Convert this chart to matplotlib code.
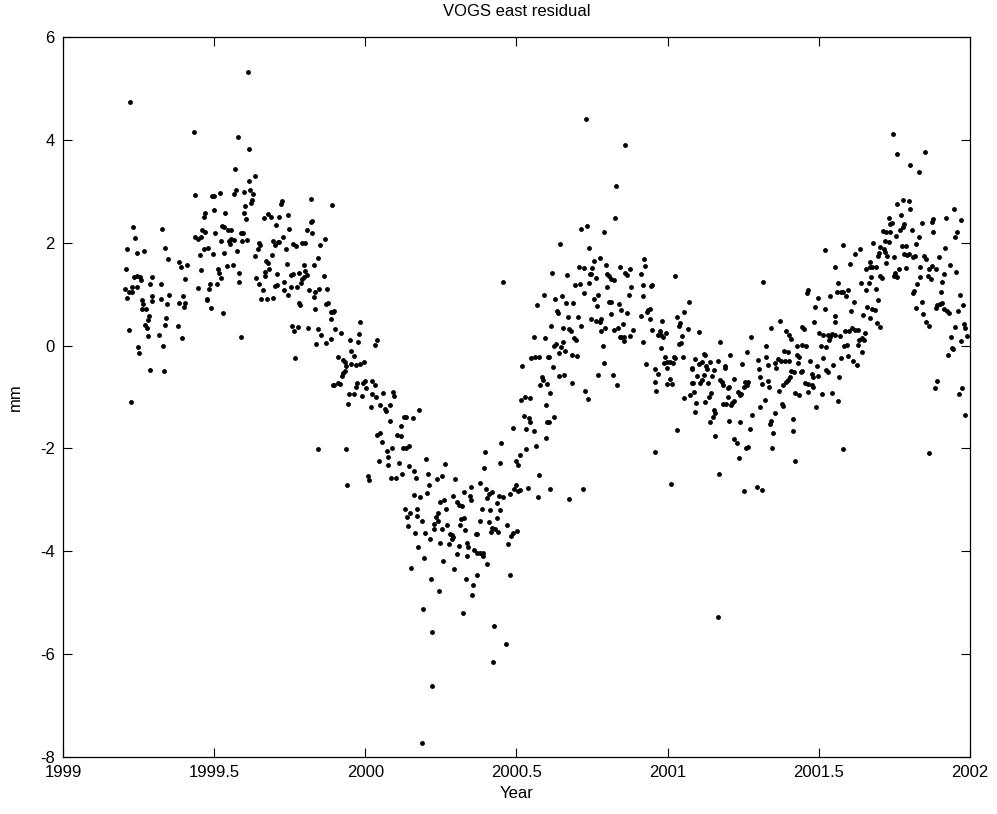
import numpy as np
import matplotlib
matplotlib.use("Agg")
import matplotlib.pyplot as plt

# daily east residuals (decimal year, mm) in strips
seg_a = [
    (1999.222, 4.74), (1999.232, 2.31), (1999.328, 2.26), (1999.237, 2.10), (1999.211, 1.88),
    (1999.337, 1.90), (1999.246, 1.80), (1999.268, 1.83), (1999.347, 1.68), (1999.383, 1.63),
    (1999.391, 1.53), (1999.409, 1.57), (1999.207, 1.49), (1999.236, 1.33), (1999.244, 1.36),
    (1999.254, 1.33), (1999.258, 1.28), (1999.293, 1.34), (1999.288, 1.20), (1999.323, 1.19),
    (1999.403, 1.29), (1999.205, 1.11), (1999.227, 1.13), (1999.244, 1.13), (1999.229, 1.05),
    (1999.217, 1.04), (1999.213, 0.93), (1999.295, 0.96), (1999.350, 0.98), (1999.396, 0.96),
    (1999.260, 0.89), (1999.264, 0.81), (1999.296, 0.86), (1999.325, 0.90), (1999.345, 0.80),
    (1999.385, 0.83), (1999.405, 0.83), (1999.400, 0.75), (1999.262, 0.72), (1999.274, 0.71),
    (1999.284, 0.58), (1999.282, 0.49), (1999.342, 0.54), (1999.270, 0.40), (1999.277, 0.34),
    (1999.218, 0.30), (1999.339, 0.41), (1999.380, 0.38), (1999.280, 0.19), (1999.319, 0.20),
    (1999.393, 0.15), (1999.249, -0.02), (1999.330, 0.00), (1999.251, -0.14), (1999.289, -0.48),
    (1999.334, -0.49), (1999.224, -1.10),
]
seg_b = [
    (1999.611, 5.32), (1999.433, 4.15), (1999.578, 4.06), (1999.614, 3.82), (1999.570, 3.44),
    (1999.616, 3.21), (1999.636, 3.29), (1999.436, 2.92), (1999.494, 2.90), (1999.500, 2.90),
    (1999.519, 2.97), (1999.567, 2.94), (1999.572, 3.03), (1999.600, 2.98), (1999.619, 3.03),
    (1999.627, 2.95), (1999.625, 2.83), (1999.622, 2.77), (1999.602, 2.72), (1999.469, 2.58),
    (1999.467, 2.50), (1999.499, 2.63), (1999.537, 2.57), (1999.598, 2.58), (1999.605, 2.47),
    (1999.525, 2.33), (1999.533, 2.30), (1999.547, 2.25), (1999.555, 2.25), (1999.459, 2.25),
    (1999.469, 2.20), (1999.504, 2.18), (1999.437, 2.12), (1999.445, 2.07), (1999.456, 2.12),
    (1999.557, 2.07), (1999.564, 2.05), (1999.523, 2.03), (1999.548, 2.03), (1999.553, 1.98),
    (1999.588, 2.19), (1999.596, 2.19), (1999.591, 2.03), (1999.609, 2.05), (1999.648, 2.00),
    (1999.652, 1.96), (1999.465, 1.88), (1999.479, 1.90), (1999.496, 1.79), (1999.534, 1.81),
    (1999.576, 1.83), (1999.644, 1.87), (1999.634, 1.74), (1999.454, 1.77), (1999.456, 1.47),
    (1999.513, 1.49), (1999.515, 1.41), (1999.541, 1.55), (1999.561, 1.56), (1999.581, 1.42),
    (1999.521, 1.31), (1999.583, 1.24), (1999.638, 1.32), (1999.649, 1.20), (1999.486, 1.20),
    (1999.482, 1.11), (1999.509, 1.20), (1999.446, 1.12), (1999.475, 0.91), (1999.477, 0.89),
    (1999.489, 0.74), (1999.655, 0.90), (1999.529, 0.63), (1999.589, 0.17),
]
seg_c = [
    (1999.724, 2.82), (1999.722, 2.75), (1999.819, 2.86), (1999.890, 2.73), (1999.664, 2.48),
    (1999.679, 2.56), (1999.687, 2.51), (1999.715, 2.50), (1999.743, 2.53), (1999.704, 2.34),
    (1999.819, 2.40), (1999.823, 2.43), (1999.748, 2.27), (1999.807, 2.24), (1999.824, 2.18),
    (1999.727, 2.12), (1999.866, 2.07), (1999.693, 2.04), (1999.700, 1.96), (1999.712, 2.02),
    (1999.716, 2.01), (1999.761, 1.98), (1999.770, 1.93), (1999.791, 2.00), (1999.801, 2.00),
    (1999.849, 1.95), (1999.737, 1.88), (1999.691, 1.76), (1999.845, 1.71), (1999.672, 1.64),
    (1999.678, 1.61), (1999.741, 1.59), (1999.797, 1.57), (1999.831, 1.57), (1999.667, 1.43),
    (1999.682, 1.48), (1999.707, 1.39), (1999.754, 1.37), (1999.761, 1.39), (1999.779, 1.42),
    (1999.799, 1.46), (1999.808, 1.37), (1999.790, 1.30), (1999.796, 1.33), (1999.863, 1.35),
    (1999.667, 1.35), (1999.786, 1.21), (1999.701, 1.15), (1999.707, 1.18), (1999.732, 1.24),
    (1999.754, 1.13), (1999.774, 1.14), (1999.730, 1.09), (1999.814, 1.08), (1999.846, 1.11),
    (1999.874, 1.11), (1999.661, 1.08), (1999.675, 0.91), (1999.696, 0.93), (1999.744, 0.98),
    (1999.829, 0.95), (1999.835, 1.04), (1999.780, 0.82), (1999.785, 0.78), (1999.869, 0.80),
    (1999.878, 0.82), (1999.832, 0.72), (1999.885, 0.66), (1999.893, 0.66), (1999.885, 0.51),
    (1999.757, 0.39), (1999.776, 0.37), (1999.765, 0.29), (1999.812, 0.35), (1999.843, 0.33),
    (1999.852, 0.21), (1999.887, 0.12), (1999.871, 0.06), (1999.838, 0.03), (1999.767, -0.25),
    (1999.892, -0.77), (1999.843, -2.02),
]
seg_d = [
    (1999.898, 0.67), (1999.981, 0.45), (1999.900, 0.32), (1999.919, 0.24), (1999.979, 0.22),
    (1999.948, 0.10), (1999.976, 0.07), (2000.038, 0.11), (2000.033, 0.02), (1999.954, -0.10),
    (1999.964, -0.21), (1999.910, -0.23), (1999.926, -0.28), (1999.932, -0.32), (1999.951, -0.36),
    (1999.968, -0.38), (1999.984, -0.35), (1999.995, -0.31), (1999.935, -0.40), (1999.933, -0.49),
    (1999.923, -0.59), (1999.926, -0.54), (1999.895, -0.77), (1999.911, -0.72), (1999.915, -0.75),
    (1999.974, -0.73), (1999.991, -0.73), (2000.000, -0.68), (2000.022, -0.68), (2000.031, -0.77),
    (1999.970, -0.81), (2000.003, -0.83), (1999.988, -0.98), (1999.945, -0.95), (1999.962, -0.94),
    (2000.023, -0.94), (2000.036, -0.99), (2000.018, -1.19), (2000.060, -0.93), (2000.091, -0.91),
    (2000.095, -0.98), (2000.082, -1.15), (1999.943, -1.14), (2000.050, -1.16), (2000.065, -1.23),
    (2000.069, -1.28), (2000.080, -1.47), (2000.119, -1.56), (2000.040, -1.74), (2000.049, -1.69),
    (2000.056, -1.87), (2000.104, -1.74), (2000.117, -1.76), (1999.937, -2.01), (2000.071, -2.04),
    (2000.089, -1.99), (2000.124, -2.00), (2000.044, -2.25), (2000.076, -2.16), (2000.076, -2.33),
    (2000.113, -2.29), (2000.008, -2.53), (2000.012, -2.61), (2000.085, -2.58), (2000.102, -2.58),
    (2000.121, -2.50), (1999.940, -2.72), (2000.128, -1.38),
]
seg_e = [
    (2000.178, -1.25), (2000.136, -1.38), (2000.157, -1.41), (2000.143, -1.95), (2000.133, -2.00),
    (2000.145, -2.35), (2000.162, -2.43), (2000.200, -2.20), (2000.264, -2.31), (2000.168, -2.57),
    (2000.206, -2.50), (2000.236, -2.60), (2000.252, -2.54), (2000.298, -2.60), (2000.212, -2.72),
    (2000.203, -2.86), (2000.161, -2.90), (2000.180, -2.94), (2000.325, -2.85), (2000.351, -2.74),
    (2000.345, -2.92), (2000.348, -3.00), (2000.289, -2.92), (2000.248, -3.05), (2000.259, -3.00),
    (2000.303, -3.05), (2000.310, -3.09), (2000.319, -3.12), (2000.267, -3.17), (2000.132, -3.18),
    (2000.148, -3.25), (2000.138, -3.33), (2000.170, -3.18), (2000.171, -3.31), (2000.240, -3.26),
    (2000.235, -3.33), (2000.242, -3.41), (2000.228, -3.47), (2000.227, -3.57), (2000.189, -3.41),
    (2000.269, -3.49), (2000.318, -3.38), (2000.327, -3.35), (2000.313, -3.48), (2000.141, -3.51),
    (2000.254, -3.57), (2000.330, -3.59), (2000.165, -3.65), (2000.198, -3.65), (2000.279, -3.66),
    (2000.287, -3.69), (2000.291, -3.73), (2000.286, -3.76), (2000.367, -3.67), (2000.214, -3.77),
    (2000.247, -3.84), (2000.277, -3.86), (2000.311, -3.90), (2000.337, -3.84), (2000.339, -3.92),
    (2000.358, -3.97), (2000.370, -4.04), (2000.175, -3.92), (2000.335, -4.10), (2000.303, -4.06),
    (2000.195, -4.13), (2000.258, -4.18), (2000.152, -4.33), (2000.294, -4.34), (2000.333, -4.54),
    (2000.216, -4.54), (2000.357, -4.66), (2000.354, -4.85), (2000.244, -4.78), (2000.192, -5.13),
    (2000.322, -5.19), (2000.221, -5.56), (2000.222, -6.61), (2000.187, -7.73),
]
seg_f = [
    (2000.455, 1.24), (2000.590, 0.99), (2000.567, 0.78), (2000.559, 0.17), (2000.594, 0.14),
    (2000.547, -0.25), (2000.562, -0.23), (2000.574, -0.22), (2000.605, -0.22), (2000.519, -0.39),
    (2000.583, -0.62), (2000.587, -0.66), (2000.579, -0.77), (2000.601, -0.74), (2000.529, -0.99),
    (2000.545, -1.01), (2000.515, -1.06), (2000.596, -1.16), (2000.524, -1.36), (2000.541, -1.41),
    (2000.544, -1.49), (2000.533, -1.63), (2000.557, -1.67), (2000.602, -1.48), (2000.488, -1.60),
    (2000.450, -1.89), (2000.598, -1.80), (2000.565, -1.95), (2000.530, -2.01), (2000.395, -2.07),
    (2000.510, -2.12), (2000.444, -2.28), (2000.498, -2.25), (2000.505, -2.32), (2000.392, -2.38),
    (2000.576, -2.52), (2000.380, -2.67), (2000.399, -2.78), (2000.420, -2.84), (2000.409, -2.89),
    (2000.403, -2.96), (2000.443, -2.93), (2000.454, -2.95), (2000.497, -2.72), (2000.492, -2.78),
    (2000.511, -2.81), (2000.506, -2.82), (2000.537, -2.76), (2000.477, -2.89), (2000.434, -3.07),
    (2000.385, -3.18), (2000.412, -3.19), (2000.447, -3.19), (2000.570, -2.94), (2000.379, -3.42),
    (2000.409, -3.43), (2000.436, -3.36), (2000.420, -3.54), (2000.429, -3.56), (2000.440, -3.62),
    (2000.417, -3.62), (2000.470, -3.48), (2000.502, -3.60), (2000.487, -3.64), (2000.482, -3.70),
    (2000.471, -3.86), (2000.370, -3.67), (2000.378, -4.04), (2000.388, -4.03), (2000.390, -4.09),
    (2000.385, -4.05), (2000.403, -4.24), (2000.371, -4.46), (2000.480, -4.46), (2000.425, -5.45),
    (2000.466, -5.81), (2000.422, -6.15),
]
seg_g = [
    (2000.730, 4.40), (2000.829, 3.10), (2000.826, 2.48), (2000.712, 2.27), (2000.733, 2.33),
    (2000.788, 2.21), (2000.645, 1.97), (2000.739, 1.90), (2000.776, 1.71), (2000.758, 1.64),
    (2000.707, 1.52), (2000.724, 1.50), (2000.751, 1.51), (2000.795, 1.57), (2000.842, 1.52),
    (2000.616, 1.41), (2000.666, 1.37), (2000.743, 1.39), (2000.748, 1.40), (2000.799, 1.39),
    (2000.807, 1.36), (2000.764, 1.31), (2000.813, 1.29), (2000.823, 1.27), (2000.695, 1.17),
    (2000.710, 1.20), (2000.739, 1.21), (2000.800, 1.13), (2000.722, 1.02), (2000.629, 0.90),
    (2000.650, 0.96), (2000.755, 0.91), (2000.768, 0.98), (2000.633, 0.67), (2000.636, 0.63),
    (2000.663, 0.83), (2000.688, 0.83), (2000.765, 0.77), (2000.805, 0.84), (2000.811, 0.84),
    (2000.814, 0.62), (2000.838, 0.81), (2000.614, 0.38), (2000.653, 0.35), (2000.669, 0.55),
    (2000.675, 0.32), (2000.681, 0.29), (2000.703, 0.55), (2000.715, 0.39), (2000.746, 0.52),
    (2000.762, 0.47), (2000.776, 0.46), (2000.779, 0.51), (2000.781, 0.29), (2000.792, 0.34),
    (2000.821, 0.30), (2000.836, 0.35), (2000.843, 0.16), (2000.691, 0.15), (2000.696, 0.11),
    (2000.630, 0.04), (2000.623, -0.01), (2000.647, -0.02), (2000.655, 0.07), (2000.642, -0.15),
    (2000.662, -0.10), (2000.685, -0.18), (2000.700, -0.21), (2000.608, -0.22), (2000.785, 0.00),
    (2000.790, -0.34), (2000.620, -0.42), (2000.640, -0.59), (2000.658, -0.58), (2000.770, -0.57),
    (2000.818, -0.57), (2000.834, -0.77), (2000.684, -0.73), (2000.612, -0.93), (2000.728, -0.88),
    (2000.735, -1.04), (2000.625, -1.39), (2000.607, -1.48), (2000.612, -2.78), (2000.719, -2.78),
    (2000.673, -2.98),
]
seg_h = [
    (2000.860, 3.90), (2000.923, 1.68), (2000.926, 1.55), (2000.859, 1.41), (2000.865, 1.37),
    (2000.876, 1.48), (2000.911, 1.39), (2001.023, 1.35), (2000.880, 1.13), (2000.919, 1.17),
    (2000.944, 1.15), (2000.947, 1.18), (2000.920, 0.96), (2000.871, 0.99), (2001.069, 0.85),
    (2000.847, 0.70), (2000.866, 0.64), (2000.935, 0.69), (2000.943, 0.72), (2000.931, 0.65),
    (2000.913, 0.57), (2000.940, 0.52), (2001.053, 0.65), (2000.981, 0.48), (2001.032, 0.56),
    (2001.040, 0.43), (2001.036, 0.39), (2001.066, 0.32), (2000.852, 0.42), (2000.884, 0.30),
    (2000.875, 0.19), (2000.854, 0.17), (2000.856, 0.08), (2000.846, 0.16), (2000.949, 0.30),
    (2000.974, 0.28), (2000.968, 0.20), (2000.979, 0.21), (2000.986, 0.16), (2000.993, 0.24),
    (2000.917, 0.07), (2001.047, 0.19), (2001.043, 0.06), (2001.036, 0.04), (2000.978, -0.05),
    (2000.990, -0.23), (2001.021, -0.22), (2001.025, -0.25), (2001.051, -0.23), (2000.930, -0.35),
    (2000.987, -0.34), (2000.997, -0.32), (2001.007, -0.32), (2001.019, -0.34), (2000.999, -0.43),
    (2000.959, -0.45), (2000.968, -0.55), (2001.079, -0.46), (2001.009, -0.64), (2000.957, -0.70),
    (2000.998, -0.75), (2001.014, -0.75), (2001.079, -0.73), (2000.963, -0.88), (2001.055, -1.01),
    (2001.075, -0.97), (2000.958, -2.06), (2001.030, -1.64), (2001.010, -2.70),
]
seg_i = [
    (2001.317, 1.23), (2001.105, 0.26), (2001.276, 0.16), (2001.174, 0.07), (2001.262, -0.12),
    (2001.120, -0.17), (2001.124, -0.18), (2001.207, -0.18), (2001.247, -0.35), (2001.089, -0.26),
    (2001.105, -0.35), (2001.113, -0.32), (2001.126, -0.40), (2001.139, -0.31), (2001.167, -0.29),
    (2001.191, -0.40), (2001.189, -0.44), (2001.299, -0.28), (2001.303, -0.46), (2001.082, -0.44),
    (2001.129, -0.46), (2001.154, -0.48), (2001.097, -0.59), (2001.120, -0.57), (2001.146, -0.59),
    (2001.306, -0.62), (2001.218, -0.64), (2001.173, -0.66), (2001.179, -0.71), (2001.184, -0.76),
    (2001.202, -0.80), (2001.198, -0.83), (2001.255, -0.70), (2001.267, -0.70), (2001.262, -0.76),
    (2001.254, -0.81), (2001.085, -0.73), (2001.106, -0.73), (2001.112, -0.67), (2001.132, -0.72),
    (2001.311, -0.74), (2001.088, -0.90), (2001.143, -0.92), (2001.136, -1.00), (2001.198, -1.00),
    (2001.232, -0.90), (2001.239, -0.97), (2001.243, -0.94), (2001.095, -1.12), (2001.122, -1.10),
    (2001.183, -1.13), (2001.194, -1.13), (2001.213, -1.12), (2001.221, -1.08), (2001.211, -1.16),
    (2001.306, -1.19), (2001.092, -1.29), (2001.152, -1.25), (2001.157, -1.32), (2001.150, -1.38),
    (2001.139, -1.48), (2001.203, -1.47), (2001.240, -1.48), (2001.278, -1.34), (2001.273, -1.62),
    (2001.157, -1.75), (2001.221, -1.81), (2001.228, -1.89), (2001.265, -1.97), (2001.258, -1.99),
    (2001.236, -2.19), (2001.170, -2.50), (2001.253, -2.83), (2001.296, -2.74), (2001.313, -2.81),
    (2001.166, -5.27),
]
seg_j = [
    (2001.519, 1.85), (2001.552, 1.52), (2001.465, 1.08), (2001.462, 1.02), (2001.496, 0.93),
    (2001.537, 0.96), (2001.488, 0.76), (2001.521, 0.72), (2001.553, 0.58), (2001.555, 0.45),
    (2001.371, 0.48), (2001.341, 0.35), (2001.484, 0.46), (2001.446, 0.36), (2001.452, 0.33),
    (2001.390, 0.29), (2001.403, 0.21), (2001.409, 0.13), (2001.502, 0.25), (2001.513, 0.21),
    (2001.530, 0.21), (2001.537, 0.16), (2001.545, 0.23), (2001.552, 0.21), (2001.534, 0.10),
    (2001.507, 0.00), (2001.524, -0.02), (2001.324, 0.00), (2001.428, 0.00), (2001.443, 0.02),
    (2001.457, 0.00), (2001.386, -0.10), (2001.397, -0.13), (2001.429, -0.19), (2001.436, -0.22),
    (2001.432, -0.33), (2001.326, -0.23), (2001.365, -0.26), (2001.376, -0.29), (2001.388, -0.29),
    (2001.400, -0.29), (2001.354, -0.33), (2001.359, -0.43), (2001.515, -0.25), (2001.470, -0.29),
    (2001.333, -0.38), (2001.495, -0.39), (2001.546, -0.38), (2001.407, -0.50), (2001.418, -0.51),
    (2001.445, -0.50), (2001.440, -0.52), (2001.476, -0.55), (2001.480, -0.62), (2001.498, -0.60),
    (2001.524, -0.47), (2001.530, -0.51), (2001.404, -0.61), (2001.398, -0.67), (2001.391, -0.71),
    (2001.331, -0.69), (2001.335, -0.81), (2001.381, -0.77), (2001.455, -0.72), (2001.465, -0.75),
    (2001.477, -0.77), (2001.482, -0.81), (2001.367, -0.88), (2001.422, -0.92), (2001.434, -0.96),
    (2001.464, -0.90), (2001.509, -0.95), (2001.544, -0.93), (2001.322, -1.06), (2001.377, -1.13),
    (2001.380, -1.17), (2001.491, -1.19), (2001.356, -1.32), (2001.341, -1.47), (2001.339, -1.52),
    (2001.413, -1.42), (2001.348, -1.70), (2001.414, -1.66), (2001.346, -2.00), (2001.421, -2.24),
]
seg_k = [
    (2001.744, 4.11), (2001.757, 3.72), (2001.759, 2.75), (2001.777, 2.84), (2001.731, 2.49),
    (2001.737, 2.37), (2001.743, 2.38), (2001.771, 2.53), (2001.781, 2.37), (2001.778, 2.31),
    (2001.768, 2.25), (2001.712, 2.22), (2001.723, 2.20), (2001.734, 2.20), (2001.754, 2.14),
    (2001.718, 2.04), (2001.733, 2.01), (2001.579, 1.96), (2001.621, 1.79), (2001.637, 1.87),
    (2001.680, 1.99), (2001.704, 1.91), (2001.714, 1.87), (2001.720, 1.82), (2001.698, 1.81),
    (2001.695, 1.75), (2001.726, 1.75), (2001.748, 1.72), (2001.774, 1.94), (2001.788, 1.94),
    (2001.781, 1.79), (2001.793, 1.77), (2001.723, 1.60), (2001.669, 1.63), (2001.668, 1.53),
    (2001.677, 1.52), (2001.688, 1.52), (2001.603, 1.59), (2001.657, 1.48), (2001.765, 1.49),
    (2001.788, 1.50), (2001.704, 1.35), (2001.709, 1.31), (2001.674, 1.33), (2001.752, 1.41),
    (2001.750, 1.35), (2001.759, 1.33), (2001.565, 1.22), (2001.641, 1.22), (2001.665, 1.22),
    (2001.560, 1.04), (2001.573, 1.04), (2001.580, 1.04), (2001.597, 1.08), (2001.656, 1.09),
    (2001.689, 1.11), (2001.589, 0.97), (2001.696, 0.89), (2001.618, 0.85), (2001.660, 0.75),
    (2001.677, 0.71), (2001.685, 0.69), (2001.607, 0.67), (2001.647, 0.60), (2001.669, 0.54),
    (2001.691, 0.44), (2001.701, 0.36), (2001.571, 0.19), (2001.588, 0.29), (2001.599, 0.28),
    (2001.609, 0.34), (2001.620, 0.31), (2001.629, 0.30), (2001.653, 0.25), (2001.643, 0.15),
    (2001.633, 0.11), (2001.650, 0.11), (2001.584, 0.00), (2001.592, 0.01), (2001.628, 0.02),
    (2001.644, -0.12), (2001.573, -0.25), (2001.596, -0.20), (2001.614, -0.30), (2001.625, -0.38),
    (2001.568, -0.62), (2001.564, -1.08), (2001.581, -2.01),
]
seg_l = [
    (2001.851, 3.76), (2001.802, 3.51), (2001.832, 3.38), (2001.798, 2.81), (2001.803, 2.66),
    (2001.946, 2.66), (2001.842, 2.38), (2001.877, 2.47), (2001.876, 2.41), (2001.922, 2.48),
    (2001.970, 2.45), (2001.809, 2.25), (2001.879, 2.20), (2001.956, 2.20), (2001.949, 2.12),
    (2001.830, 2.11), (2001.821, 1.97), (2001.798, 1.78), (2001.810, 1.72), (2001.817, 1.74),
    (2001.848, 1.74), (2001.855, 1.68), (2001.898, 1.72), (2001.919, 1.90), (2001.834, 1.53),
    (2001.863, 1.48), (2001.873, 1.55), (2001.887, 1.49), (2001.933, 1.57), (2001.955, 1.44),
    (2001.915, 1.39), (2001.836, 1.33), (2001.861, 1.36), (2001.870, 1.30), (2001.909, 1.24),
    (2001.826, 1.20), (2001.815, 1.07), (2001.813, 1.03), (2001.904, 1.04), (2001.966, 0.99),
    (2001.841, 0.85), (2001.823, 0.74), (2001.977, 0.78), (2001.907, 0.83), (2001.900, 0.80),
    (2001.892, 0.78), (2001.889, 0.74), (2001.913, 0.71), (2001.923, 0.67), (2001.931, 0.64),
    (2001.959, 0.67), (2001.845, 0.61), (2001.854, 0.45), (2001.864, 0.39), (2001.952, 0.36),
    (2001.980, 0.42), (2001.983, 0.34), (2001.937, 0.17), (2001.990, 0.19), (2001.969, 0.09),
    (2001.941, -0.04), (2001.945, -0.06), (2001.928, -0.19), (2001.892, -0.68), (2001.884, -0.83),
    (2001.974, -0.82), (2001.963, -0.95), (2001.985, -1.34), (2001.866, -2.09),
]

segments = [seg_a, seg_b, seg_c, seg_d, seg_e, seg_f,
            seg_g, seg_h, seg_i, seg_j, seg_k, seg_l]
year = np.array([p[0] for s in segments for p in s])
east_mm = np.array([p[1] for s in segments for p in s])

x_ticks = [1999, 1999.5, 2000, 2000.5, 2001, 2001.5, 2002]
x_labels = ['1999', '1999.5', '2000', '2000.5', '2001', '2001.5', '2002']
y_ticks = [-8, -6, -4, -2, 0, 2, 4, 6]

plt.rcParams['font.family'] = ['Liberation Sans', 'DejaVu Sans']
plt.rcParams['font.size'] = 12

fig = plt.figure(figsize=(9.97, 8.14), dpi=100)
ax = fig.add_axes([0.0632, 0.0700, 0.9097, 0.8845])

ax.plot(year, east_mm, 'o', color='k', markersize=3.5, markeredgewidth=0)

ax.set_xlim(1999, 2002)
ax.set_ylim(-8, 6)
ax.set_xticks(x_ticks, x_labels)
ax.set_yticks(y_ticks, [str(v) for v in y_ticks])
ax.tick_params(direction='in', length=6.5, width=0.8, top=True, right=True,
               labelsize=12, pad=6)
for sp in ax.spines.values():
    sp.set_linewidth(0.9)

ax.set_title('VOGS east residual', fontsize=12, pad=15)
ax.set_xlabel('Year', fontsize=12, labelpad=4)
ax.set_ylabel('mm', fontsize=12, labelpad=12)

fig.savefig('out.png', dpi=100, facecolor='white')
